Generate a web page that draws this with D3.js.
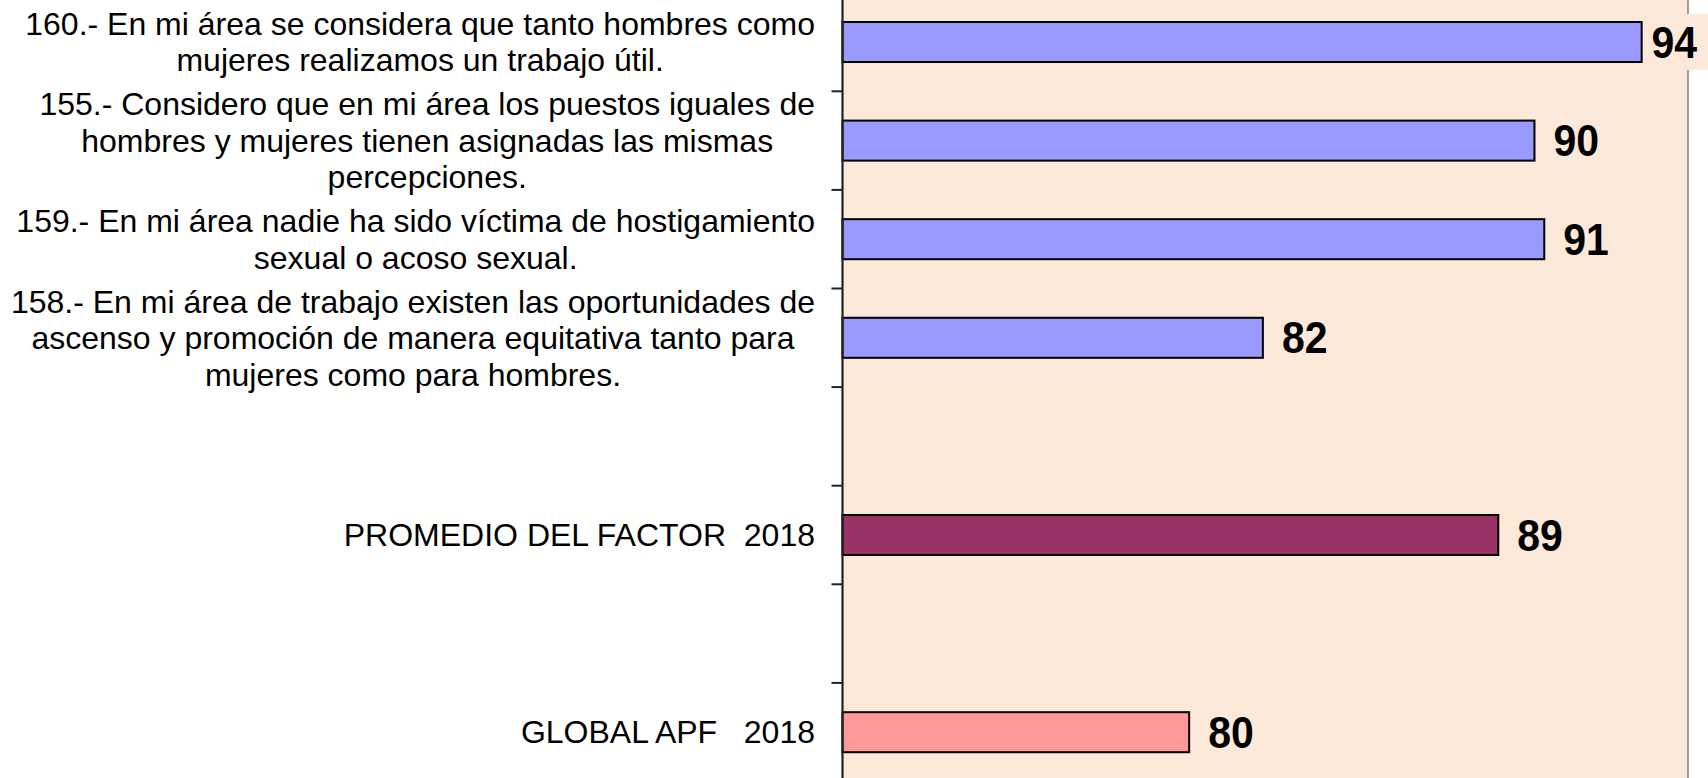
<!DOCTYPE html>
<html>
<head>
<meta charset="utf-8">
<script src="https://cdn.jsdelivr.net/npm/d3@7"></script>
<style>
  html, body { margin: 0; padding: 0; background: #ffffff; overflow: hidden; }
  svg { display: block; }
  text { font-family: "Liberation Sans", Arial, sans-serif; white-space: pre; }
</style>
</head>
<body>
<svg id="chart" width="1708" height="778"></svg>
<script>
// ---- data ----
const categories = [
  "160.- En mi área se considera que tanto hombres como|mujeres realizamos un trabajo útil.",
  "155.- Considero que en mi área los puestos iguales de|hombres y mujeres tienen asignadas las mismas|percepciones.",
  "159.- En mi área nadie ha sido víctima de hostigamiento|sexual o acoso sexual.",
  "158.- En mi área de trabajo existen las oportunidades de|ascenso y promoción de manera equitativa tanto para|mujeres como para hombres.",
  "",
  "PROMEDIO DEL FACTOR  2018",
  "",
  "GLOBAL APF   2018"
];
const values = [93.63, 90.46, 90.75, 82.43, null, 89.39, null, 80.25];
const valueLabels = ["94", "90", "91", "82", "", "89", "", "80"];
const seriesKind = ["item", "item", "item", "item", null, "factor", null, "global"];
const xDomain = [70, 95];

// ---- styles ----
const kindColor = { item: "#9999FF", factor: "#993366", global: "#FF9999" };
const plotBg = "#FDE9D9";

const svg = d3.select("#chart");

const axisX = 842.5, plotRight = 1688;
const x = d3.scaleLinear().domain(xDomain).range([axisX, plotRight]);
const idx = categories.map((d, i) => i);
const y = d3.scaleBand().domain(idx).range([-7.3, 781.5])
  .paddingInner(0.594).paddingOuter(0.297);

// plot background
svg.append("rect")
  .attr("x", axisX).attr("y", -20)
  .attr("width", plotRight - axisX).attr("height", 820)
  .attr("fill", plotBg);
// right border
svg.append("line")
  .attr("x1", plotRight).attr("x2", plotRight)
  .attr("y1", -20).attr("y2", 800)
  .attr("stroke", "#808080").attr("stroke-width", 1.5);

// bars
const barData = idx.filter(i => values[i] != null);
svg.append("g").selectAll("rect").data(barData).join("rect")
  .attr("x", x(xDomain[0]))
  .attr("y", i => y(i))
  .attr("width", i => x(values[i]) - x(xDomain[0]))
  .attr("height", y.bandwidth())
  .attr("fill", i => kindColor[seriesKind[i]])
  .attr("stroke", "#000").attr("stroke-width", 2);

// y axis (ticks between categories)
const step = y.step();
const boundaries = d3.range(categories.length + 1).map(k => y.range()[0] + k * step);
const axisG = svg.append("g");
axisG.append("line")
  .attr("x1", axisX).attr("x2", axisX)
  .attr("y1", y.range()[0]).attr("y2", y.range()[1])
  .attr("stroke", "#222").attr("stroke-width", 2.2);
axisG.selectAll("line.tick").data(boundaries).join("line")
  .attr("class", "tick")
  .attr("x1", axisX - 11).attr("x2", axisX)
  .attr("y1", d => d).attr("y2", d => d)
  .attr("stroke", "#222").attr("stroke-width", 2);

// category labels: block right-aligned, lines centered in block
const labelRight = 815;
const lineH = 36.5;
const labG = svg.append("g");
idx.forEach(i => {
  if (!categories[i]) return;
  const lines = categories[i].split("|");
  const cy = y(i) + y.bandwidth() / 2;
  const t = labG.append("text")
    .attr("font-size", 32).attr("fill", "#000")
    .attr("text-anchor", "middle");
  const tsp = lines.map((ln, k) => t.append("tspan")
    .attr("y", cy + (k - (lines.length - 1) / 2) * lineH)
    .attr("dy", "0.35em")
    .text(ln));
  const w = d3.max(tsp, s => s.node().getComputedTextLength());
  tsp.forEach(s => s.attr("x", labelRight - w / 2));
});

// value labels with background box
const valG = svg.append("g");
const labelGap = 19, labelMaxRight = 1697, sy = 1.08;
barData.forEach(i => {
  const cy = y(i) + y.bandwidth() / 2;
  const g = valG.append("g");
  const bg = g.append("rect").attr("fill", plotBg);
  const t = g.append("text")
    .attr("x", 0).attr("y", 0).attr("dy", "0.35em")
    .attr("font-size", 41).attr("font-weight", "bold").attr("fill", "#000")
    .text(valueLabels[i]);
  const w = t.node().getComputedTextLength();
  const lx = Math.min(x(values[i]) + labelGap, labelMaxRight - w);
  t.attr("transform", `translate(${lx},${cy}) scale(1,${sy})`);
  bg.attr("x", lx - 6).attr("y", cy - 28)
    .attr("width", w + 24).attr("height", 56);
});
</script>
</body>
</html>
